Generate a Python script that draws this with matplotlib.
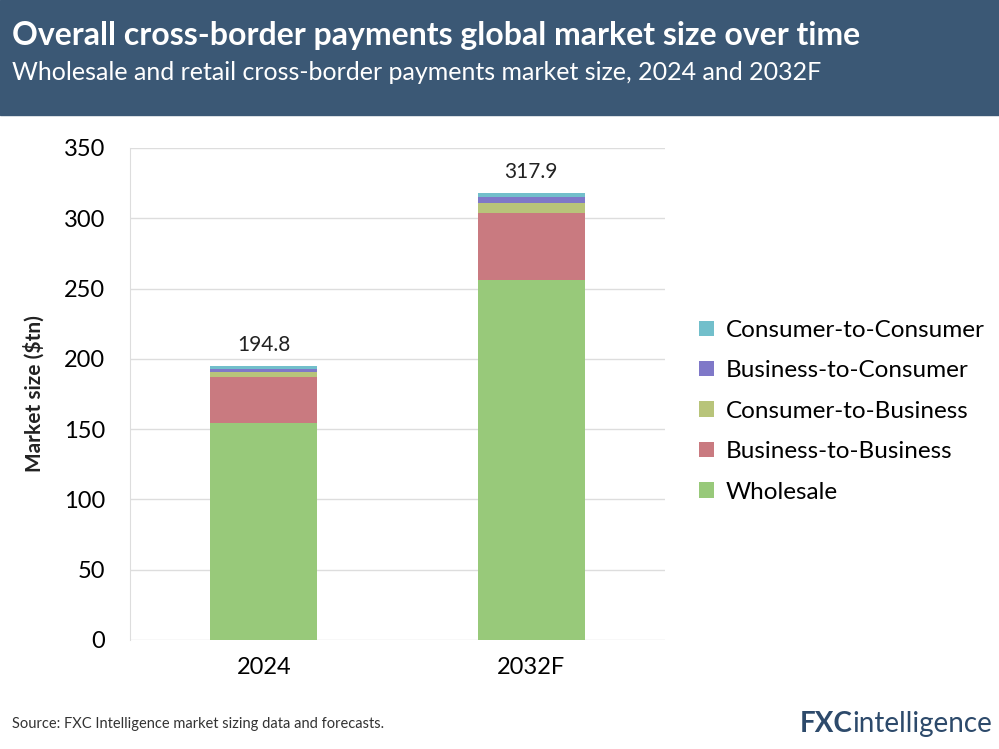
import matplotlib.pyplot as plt
import numpy as np

years = ["2024", "2032F"]
segments = ["Wholesale", "Business-to-Business", "Consumer-to-Business",
            "Business-to-Consumer", "Consumer-to-Consumer"]
wholesale = [154.6, 256.0]
b2b = [32.2, 47.9]
c2b = [4.0, 7.1]
b2c = [2.2, 4.4]
c2c = [1.8, 2.5]
totals = [194.8, 317.9]
colors = ["#98c97a", "#c97a80", "#b8c47a", "#7f78c8", "#72bfcb"]

plt.rcParams["font.family"] = "Lato"
fig = plt.figure(figsize=(9.99, 7.49), dpi=100)

# header band
fig.patches.append(plt.Rectangle((0, 1 - 115 / 749), 1, 115 / 749, transform=fig.transFigure,
                                 color="#3b5875", zorder=0))
fig.text(0.012, 0.952, "Overall cross-border payments global market size over time",
         color="white", fontsize=23, fontweight="bold", va="center")
fig.text(0.012, 0.903, "Wholesale and retail cross-border payments market size, 2024 and 2032F",
         color="white", fontsize=18, va="center")

ax = fig.add_axes([130 / 999, 1 - 640 / 749, 535 / 999, 492 / 749])
x = np.arange(len(years))
bottom = np.zeros(len(years))
for name, vals, c in zip(segments, [wholesale, b2b, c2b, b2c, c2c], colors):
    ax.bar(x, vals, 0.4, bottom=bottom, color=c, label=name, zorder=3)
    bottom += np.array(vals)
for xi, t in zip(x, totals):
    ax.text(xi, t + 8, f"{t:.1f}", ha="center", va="bottom", fontsize=15, color="#222222")

ax.set_xlim(-0.5, 1.5)
ax.set_ylim(0, 350)
ax.set_yticks(range(0, 351, 50))
ax.set_xticks(x)
ax.set_xticklabels(years, fontsize=17)
ax.tick_params(axis="y", labelsize=17, length=0, pad=18)
ax.tick_params(axis="x", length=0, pad=12)
ax.yaxis.grid(True, color="#dddddd", lw=1, zorder=0)
for s in ["top", "right", "bottom"]:
    ax.spines[s].set_visible(False)
ax.spines["left"].set_color("#dddddd")
ax.set_ylabel("Market size ($tn)", fontsize=15, fontweight="bold", color="#222222", labelpad=14)

h, l = ax.get_legend_handles_labels()
fig.legend(h[::-1], l[::-1], loc="center left", bbox_to_anchor=(0.678, 0.451), frameon=False,
           fontsize=17.5, handlelength=0.6, handleheight=0.6, labelspacing=0.8, handletextpad=0.5)

fig.text(0.012, 0.033, "Source: FXC Intelligence market sizing data and forecasts.",
         fontsize=10.5, color="#333333", va="center")
logo = fig.text(0.993, 0.033, "intelligence", fontsize=20, color="#2d4a6b", va="center", ha="right")
fig.canvas.draw()
bb = logo.get_window_extent().transformed(fig.transFigure.inverted())
fig.text(bb.x0, 0.033, "FXC", fontsize=20, fontweight="bold", color="#2d4a6b", va="center", ha="right")

fig.savefig("out.png", dpi=100)
